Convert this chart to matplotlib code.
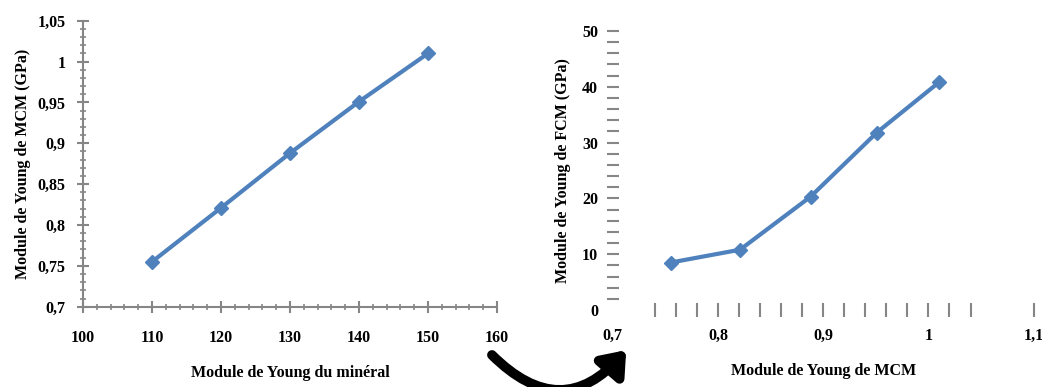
import matplotlib
matplotlib.use("Agg")
import matplotlib.pyplot as plt
from matplotlib.patches import FancyArrowPatch
from matplotlib.ticker import MultipleLocator, FixedLocator

# Data
mineral = [110, 120, 130, 140, 150]
mcm = [0.755, 0.821, 0.888, 0.951, 1.010]
mcm_x = [0.755, 0.821, 0.888, 0.951, 1.010]
fcm = [8.5, 10.8, 20.3, 31.8, 40.8]

left_xticks = [100, 110, 120, 130, 140, 150, 160]
left_yticks = [0.7, 0.75, 0.8, 0.85, 0.9, 0.95, 1.0, 1.05]
left_ylabels = ["0,7", "0,75", "0,8", "0,85", "0,9", "0,95", "1", "1,05"]
right_xticks = [0.7, 0.8, 0.9, 1.0, 1.1]
right_xlabels = ["0,7", "0,8", "0,9", "1", "1,1"]
right_yticks = [0, 10, 20, 30, 40, 50]

plt.rcParams['font.family'] = ['Liberation Serif', 'DejaVu Serif']
plt.rcParams['font.weight'] = 'bold'

blue = '#4F81BD'
gray = '#868686'
fs = 11.5

fig = plt.figure(figsize=(10.42, 3.87), dpi=100)

# Left chart
ax1 = fig.add_axes([0.0797, 0.2075, 0.3973, 0.739])
ax1.plot(mineral, mcm, color=blue, lw=3, marker='D', ms=7, mec=blue, mfc=blue)
ax1.set_xlim(100, 160)
ax1.set_ylim(0.7, 1.05)
ax1.set_xticks(left_xticks)
ax1.set_xticklabels([str(v) for v in left_xticks], fontsize=fs, fontweight='bold')
ax1.set_yticks(left_yticks)
ax1.set_yticklabels(left_ylabels, fontsize=fs, fontweight='bold')
ax1.xaxis.set_minor_locator(MultipleLocator(2))
ax1.yaxis.set_minor_locator(MultipleLocator(0.01))
for s in ['top', 'right']:
    ax1.spines[s].set_visible(False)
for s in ['left', 'bottom']:
    ax1.spines[s].set_color(gray)
    ax1.spines[s].set_linewidth(1.5)
ax1.tick_params(which='major', direction='inout', length=9, width=1.5, color=gray, pad=8)
ax1.tick_params(which='minor', direction='inout', length=5, width=1.2, color=gray)
ax1.tick_params(axis='x', which='major', pad=12)
ax1.set_xlabel("Module de Young du minéral", fontsize=fs, fontweight='bold', labelpad=14)
ax1.set_ylabel("Module de Young de MCM (GPa)", fontsize=fs, fontweight='bold', labelpad=5)

# Right chart
ax2 = fig.add_axes([0.588, 0.199, 0.404, 0.721])
ax2.plot(mcm_x, fcm, color=blue, lw=3, marker='D', ms=7, mec=blue, mfc=blue)
ax2.set_xlim(0.7, 1.1)
ax2.set_ylim(0, 50)
ax2.set_xticks(right_xticks)
ax2.set_xticklabels(right_xlabels, fontsize=fs, fontweight='bold')
ax2.set_yticks(right_yticks)
ax2.set_yticklabels([str(v) for v in right_yticks], fontsize=fs, fontweight='bold')
ax2.xaxis.set_minor_locator(FixedLocator([0.74, 0.76, 0.78, 0.82, 0.84, 0.86, 0.88,
                                          0.92, 0.94, 0.96, 0.98, 1.02, 1.04]))
ax2.yaxis.set_minor_locator(MultipleLocator(2))
for s in ax2.spines.values():
    s.set_visible(False)
ax2.tick_params(which='both', direction='inout', color=gray, width=1.5)
ax2.tick_params(axis='x', which='both', length=10, pad=8)
ax2.tick_params(axis='y', which='both', length=9, pad=6)
ax2.xaxis.get_major_ticks()[0].tick1line.set_visible(False)
ax2.yaxis.get_major_ticks()[0].tick1line.set_visible(False)
ax2.set_xlabel("Module de Young de MCM", fontsize=fs, fontweight='bold', labelpad=14)
ax2.set_ylabel("Module de Young de FCM (GPa)", fontsize=fs, fontweight='bold', labelpad=8)

# Curved arrow
arrow = FancyArrowPatch((490 / 1042, 1 - 353 / 387), (628 / 1042, 1 - 348 / 387),
                        transform=fig.transFigure, connectionstyle="arc3,rad=0.55",
                        arrowstyle='-|>,head_length=13,head_width=10', color='black',
                        lw=7, mutation_scale=1, clip_on=False)
fig.patches.append(arrow)

fig.savefig("out.png", dpi=100)
